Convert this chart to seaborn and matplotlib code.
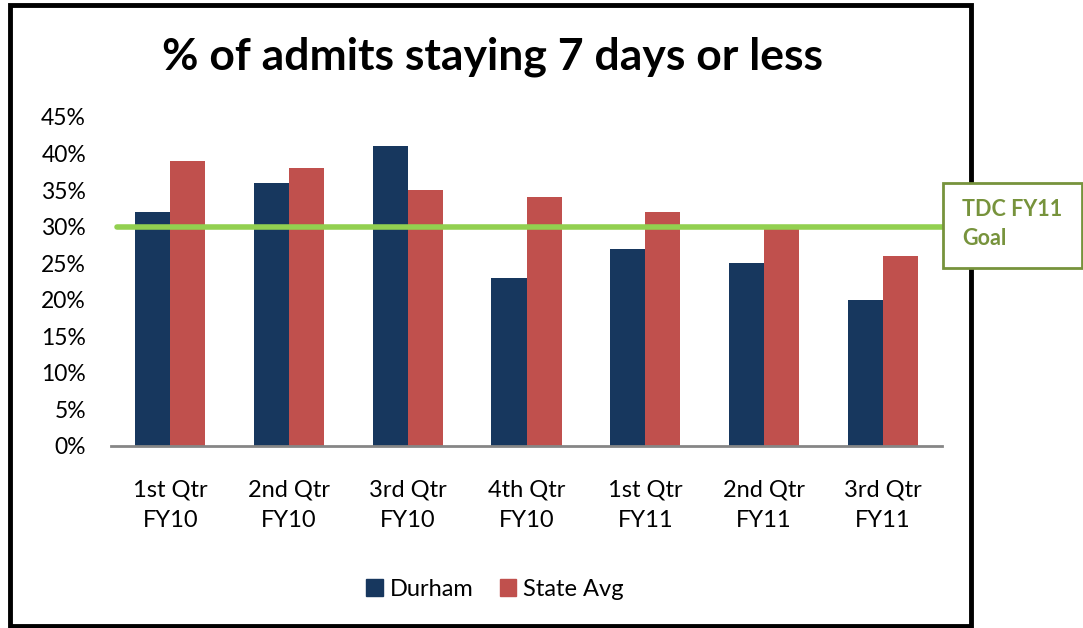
import matplotlib
matplotlib.use('Agg')
import matplotlib.pyplot as plt
import pandas as pd
import seaborn as sns
from matplotlib.patches import Rectangle

quarters = ['1st Qtr\nFY10', '2nd Qtr\nFY10', '3rd Qtr\nFY10', '4th Qtr\nFY10',
            '1st Qtr\nFY11', '2nd Qtr\nFY11', '3rd Qtr\nFY11']
durham = [32, 36, 41, 23, 27, 25, 20]
state_avg = [39, 38, 35, 34, 32, 30, 26]
goal = 30
yticks = [0, 5, 10, 15, 20, 25, 30, 35, 40, 45]

df = pd.DataFrame({
    'Quarter': quarters * 2,
    'Series': ['Durham'] * len(quarters) + ['State Avg'] * len(quarters),
    'Value': durham + state_avg,
})

sns.set_style('white')
plt.rcParams['font.family'] = ['Lato', 'DejaVu Sans']
plt.rcParams['text.color'] = 'black'
plt.rcParams['xtick.color'] = 'black'
plt.rcParams['ytick.color'] = 'black'

fig = plt.figure(figsize=(10.83, 6.28), dpi=100)
ax = fig.add_axes([111 / 1083, 1 - 446 / 628, 831 / 1083, 329 / 628])

sns.barplot(data=df, x='Quarter', y='Value', hue='Series', order=quarters,
            palette={'Durham': '#17375E', 'State Avg': '#C0504D'},
            width=0.59, gap=0, saturation=1, linewidth=0, ax=ax, legend=False)

ax.set_ylim(0, 45)
ax.set_xlim(-0.5, len(quarters) - 0.5)
ax.set_yticks(yticks)
ax.set_yticklabels([f'{v}%' for v in yticks])
ax.set_xticks(range(len(quarters)))
ax.set_xticklabels(quarters, linespacing=1.55)
ax.tick_params(axis='y', length=0, pad=18, labelsize=16.5)
ax.tick_params(axis='x', length=0, pad=24, labelsize=17)
ax.set_xlabel('')
ax.set_ylabel('')
for side in ['left', 'right', 'top']:
    ax.spines[side].set_visible(False)
ax.spines['bottom'].set_color('#868686')
ax.spines['bottom'].set_linewidth(2)

# goal line
ax.axhline(goal, xmin=6 / 831, xmax=1.003, color='#92D050', lw=4, zorder=5, clip_on=False)

fig.text(492 / 1083, 1 - 57 / 628, '% of admits staying 7 days or less',
         ha='center', va='center', fontsize=32, fontweight='bold')

# legend
handles = [Rectangle((0, 0), 1, 1, color='#17375E'), Rectangle((0, 0), 1, 1, color='#C0504D')]
fig.legend(handles, ['Durham', 'State Avg'], loc='center',
           bbox_to_anchor=(495 / 1083, 1 - 589 / 628), ncol=2, frameon=False,
           fontsize=17, handlelength=0.7, handleheight=0.7, handletextpad=0.3,
           columnspacing=1.1)

# outer frame
fig.patches.append(Rectangle((10 / 1083, 2 / 628), 961 / 1083, 621 / 628,
                             transform=fig.transFigure, fill=False,
                             edgecolor='black', lw=3.5, zorder=1))

# goal box
fig.patches.append(Rectangle((943 / 1083, 1 - 268 / 628), 139 / 1083, 85 / 628,
                             transform=fig.transFigure, facecolor='white',
                             edgecolor='#77933C', lw=2, zorder=3))
fig.text(962 / 1083, 1 - 224 / 628, 'TDC FY11\nGoal', ha='left', va='center',
         fontsize=15.5, fontweight='bold', color='#77933C', linespacing=1.45, zorder=4)

fig.savefig('out.png', dpi=100)
